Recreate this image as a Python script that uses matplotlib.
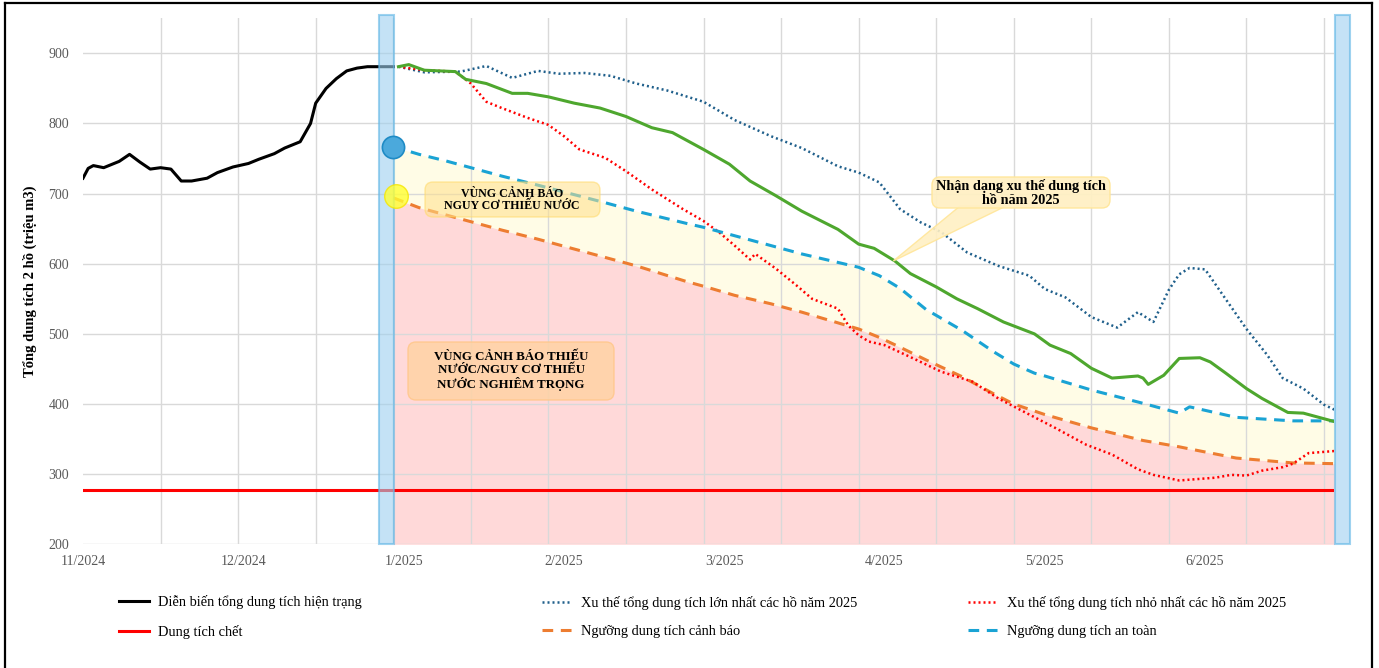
import matplotlib
matplotlib.use('Agg')
import matplotlib.pyplot as plt
import numpy as np
from matplotlib.patches import Rectangle, FancyBboxPatch, Polygon
from matplotlib.lines import Line2D
from matplotlib.transforms import IdentityTransform

plt.rcParams['font.family'] = ['Liberation Serif', 'DejaVu Serif']

# --- Dữ liệu (ngày tính từ 1/11/2024) ---
month_ticks = [0, 31, 62, 93, 124, 155, 186, 217]
month_labels = ['11/2024', '12/2024', '1/2025', '2/2025', '3/2025', '4/2025', '5/2025', '6/2025']

# Diễn biến tổng dung tích hiện trạng
hist_days = [0, 1, 2, 4, 7, 9, 11, 13, 15, 17, 19, 21, 24, 26, 29, 32, 34, 37, 39, 42,
             44, 45, 47, 49, 51, 53, 55, 60]
hist_vol = [722, 736, 740, 737, 746, 756, 745, 735, 737, 735, 718, 718, 722, 730, 738, 743,
            749, 757, 765, 774, 800, 829, 850, 864, 875, 879, 881, 881]

# Nhận dạng xu thế dung tích hồ năm 2025 (đường xanh lá)
trend_days = [61, 63, 66, 72, 74, 78, 83, 86, 90, 95, 100, 105, 110, 114, 120, 125, 129, 134,
              139, 146, 150, 153, 157, 160, 165, 169, 173, 178, 184, 187, 191, 195, 199, 204,
              205, 206, 209, 212, 216, 218, 221, 225, 228, 232, 233, 236, 242]
trend_vol = [881, 884, 876, 874, 863, 857, 843, 843, 838, 829, 822, 810, 794, 787, 763, 742,
             718, 697, 675, 649, 628, 622, 604, 586, 567, 550, 536, 517, 500, 484, 472, 451,
             437, 440, 437, 428, 441, 465, 466, 460, 444, 422, 408, 392, 388, 387, 375]

# Xu thế tổng dung tích lớn nhất các hồ năm 2025
max_days = [61, 66, 73, 78, 83, 88, 92, 97, 102, 107, 113, 120, 126, 133, 139, 146, 150, 154,
            158, 162, 166, 171, 177, 183, 186, 190, 195, 200, 204, 207, 210, 212, 214, 217,
            220, 225, 229, 232, 236, 240, 242]
max_vol = [881, 873, 874, 882, 865, 875, 871, 872, 868, 857, 847, 831, 805, 782, 765, 739,
           730, 716, 678, 659, 645, 616, 597, 583, 564, 552, 524, 509, 531, 517, 563, 585,
           594, 592, 560, 507, 470, 437, 422, 399, 392]

# Xu thế tổng dung tích nhỏ nhất các hồ năm 2025
min_days = [61, 66, 72, 75, 78, 81, 86, 90, 93, 96, 101, 105, 110, 116, 120, 123, 126, 129,
            130, 134, 138, 141, 146, 148, 150, 152, 155, 160, 166, 172, 177, 183, 188, 194,
            199, 204, 207, 212, 219, 222, 225, 228, 232, 234, 237, 242]
min_vol = [881, 876, 874, 857, 831, 822, 808, 798, 782, 763, 751, 732, 706, 678, 661, 645,
           626, 606, 614, 593, 569, 550, 536, 512, 498, 489, 484, 467, 446, 432, 408, 385,
           366, 342, 328, 307, 299, 291, 295, 299, 298, 305, 310, 315, 330, 333]

# Ngưỡng dung tích an toàn / cảnh báo
thr_days = [60, 65, 70, 81, 88, 101, 107, 117, 120, 126, 133, 139, 150, 154, 158, 163, 170,
            176, 180, 184, 186, 195, 205, 212, 214, 223, 234, 242]
safe_vol = [767, 756, 747, 725, 712, 687, 675, 657, 652, 640, 626, 614, 595, 583, 565, 535,
            505, 475, 457, 444, 440, 420, 401, 387, 396, 381, 376, 376]
warn_vol = [694, 680, 670, 648, 635, 609, 597, 574, 568, 555, 543, 531, 507, 495, 481, 463,
            439, 415, 400, 390, 385, 366, 348, 339, 336, 323, 316, 315]

dead_vol = 278
axis_days = [0, 242]

W, H = 1379, 668
fig = plt.figure(figsize=(W / 100, H / 100), dpi=100)
ax = fig.add_axes([83 / W, 1 - 544.3 / H, (1334.4 - 83) / W, (544.3 - 18.3) / H])

# vùng tô
ax.fill_between(thr_days, 200, warn_vol, color='#FF9999', alpha=0.37, lw=0, zorder=1)
ax.fill_between(thr_days, warn_vol, safe_vol, color='#FFF59D', alpha=0.25, lw=0, zorder=1)

l_hist, = ax.plot(hist_days, hist_vol, color='black', lw=2.2, zorder=3,
                  label='Diễn biến tổng dung tích hiện trạng')
l_dead, = ax.plot(axis_days, [dead_vol, dead_vol], color='#FF0000', lw=2.2, zorder=3,
                  label='Dung tích chết')
l_max, = ax.plot(max_days, max_vol, color='#1F5F8B', lw=1.8, dashes=(0.8, 1.2), zorder=3,
                 label='Xu thế tổng dung tích lớn nhất các hồ năm 2025')
l_warn, = ax.plot(thr_days, warn_vol, color='#ED7D31', lw=2.2, dashes=(3.5, 2.5), zorder=3,
                  label='Ngưỡng dung tích cảnh báo')
l_min, = ax.plot(min_days, min_vol, color='#FF0000', lw=1.8, dashes=(0.8, 1.2), zorder=3,
                 label='Xu thế tổng dung tích nhỏ nhất các hồ năm 2025')
l_safe, = ax.plot(thr_days, safe_vol, color='#1AA3D4', lw=2.2, dashes=(3.5, 2.5), zorder=3,
                  label='Ngưỡng dung tích an toàn')
ax.plot(trend_days, trend_vol, color='#4EA72E', lw=2.2, zorder=4)

# cột xanh đánh dấu đầu / cuối kỳ dự báo
for x0 in (57.2, 242.1):
    ax.add_patch(Rectangle((x0, 200), 2.85, 754, facecolor='#9DD0F0', alpha=0.6,
                           edgecolor='#5DB5E5', lw=1.5, clip_on=False, zorder=5))

ax.plot(thr_days[0], safe_vol[0], 'o', ms=16, mfc='#4BA9DC', mec='#1F8BC5', mew=1.2,
        zorder=6, clip_on=False)
ax.plot(thr_days[0] + 0.5, warn_vol[0] + 2, 'o', ms=17, mfc='#FFFF33', mec='#F5E600',
        alpha=0.8, zorder=6, clip_on=False)

ax.set_xlim(0, 242)
ax.set_ylim(200, 950)
ax.set_yticks(np.arange(200, 901, 100))
ax.set_xticks(month_ticks)
ax.set_xticklabels(month_labels)
ax.set_xticks(np.arange(0, 241, 15), minor=True)
ax.grid(which='minor', axis='x', color='#D9D9D9', lw=1)
ax.grid(which='major', axis='y', color='#D9D9D9', lw=1)
ax.tick_params(which='both', length=0, colors='#595959', labelsize=10)
ax.tick_params(axis='x', pad=8)
ax.tick_params(axis='y', pad=10)
for s in ax.spines.values():
    s.set_visible(False)
ax.set_ylabel('Tổng dung tích 2 hồ (triệu m3)', fontsize=10.5, fontweight='bold')
ax.yaxis.set_label_coords(-0.037, 0.5)

# hộp chú thích
def box(x0, y0, x1, y1, fc, ec, alpha, z=2):
    p = FancyBboxPatch((x0, H - y1), x1 - x0, y1 - y0,
                       boxstyle='round,pad=0,rounding_size=8', transform=IdentityTransform(),
                       fc=fc, ec=ec, lw=1, alpha=alpha, zorder=z)
    fig.add_artist(p)

box(425, 182, 600, 217, '#FFE08A', '#FFD966', 0.55)
fig.text(512 / W, 1 - 200 / H, 'VÙNG CẢNH BÁO\nNGUY CƠ THIẾU NƯỚC', ha='center', va='center',
         fontsize=8.6, fontweight='bold', linespacing=1.0, zorder=3)
box(408, 342, 614, 400, '#FFD3A5', '#FFC78A', 0.85)
fig.text(511 / W, 1 - 371 / H, 'VÙNG CẢNH BÁO THIẾU\nNƯỚC/NGUY CƠ THIẾU\nNƯỚC NGHIÊM TRỌNG',
         ha='center', va='center', fontsize=9.3, fontweight='bold', linespacing=1.1, zorder=3)

# chú thích xu thế với mũi nhọn chỉ vào đường xanh lá
tip = ax.transData.transform((156.7, 604))
fig.add_artist(Polygon([(960, H - 206), (1006, H - 206), tuple(tip)], closed=True,
                       transform=IdentityTransform(), fc='#FFF0C4', ec='#FFE699', lw=1,
                       alpha=0.9, zorder=2))
box(932, 177, 1110, 208, '#FFF0C4', '#FFE699', 0.95, z=2.5)
fig.text(1021 / W, 1 - 193 / H, 'Nhận dạng xu thế dung tích\nhồ năm 2025', ha='center',
         va='center', fontsize=10.3, fontweight='bold', linespacing=1.15, zorder=3)

# chú giải: 3 cột
leg_kw = dict(loc='center left', frameon=False, fontsize=10.4, borderpad=0, borderaxespad=0,
              handlelength=2.1, handletextpad=0.6, labelspacing=1.05)
for x0, hs in ((119, [l_hist, l_dead]), (542, [l_max, l_warn]), (968, [l_min, l_safe])):
    fig.legend(handles=hs, bbox_to_anchor=(x0 / W, 1 - 617 / H), **leg_kw)

# khung ngoài
for xs, ys in (([5, 5], [3, 700]), ([5, 1372], [3, 3]), ([1372, 1372], [3, 700])):
    fig.add_artist(Line2D([x / W for x in xs], [1 - y / H for y in ys],
                          transform=fig.transFigure, color='black', lw=1.6))

plt.savefig('out.png', dpi=100)
